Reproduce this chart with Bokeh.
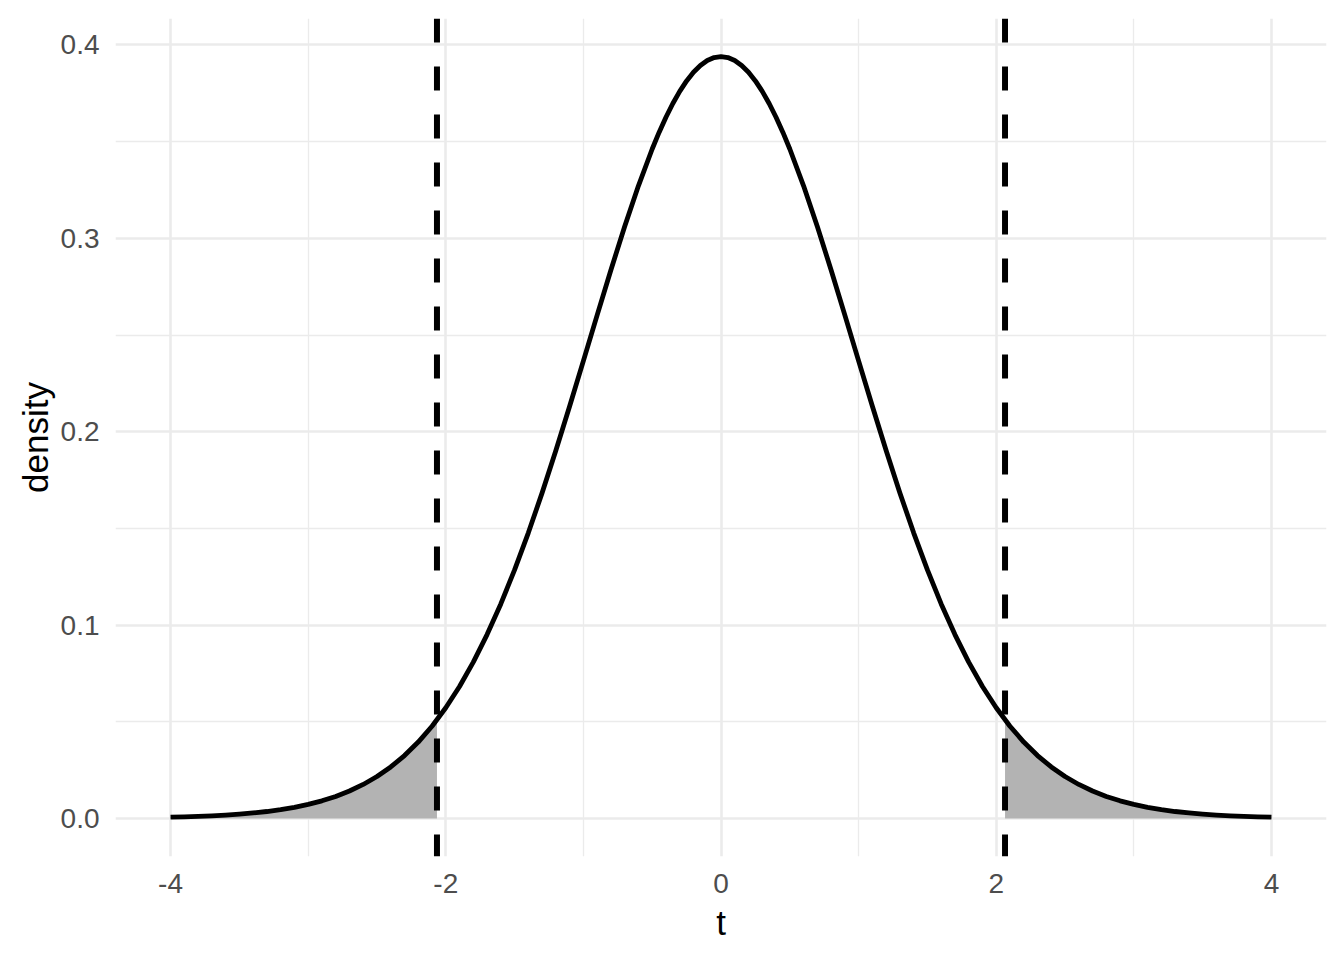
from bokeh.plotting import figure
from bokeh.models import FixedTicker, Span, Range1d
from bokeh.embed import file_html
from bokeh.resources import INLINE

# t grid and density
t_values = [-4.0, -3.9, -3.8, -3.7, -3.6, -3.5, -3.4, -3.3, -3.2, -3.1,
            -3.0, -2.9, -2.8, -2.7, -2.6, -2.5, -2.4, -2.3, -2.2, -2.1,
            -2.0, -1.9, -1.8, -1.7, -1.6, -1.5, -1.4, -1.3, -1.2, -1.1,
            -1.0, -0.9, -0.8, -0.7, -0.6, -0.5, -0.45, -0.4, -0.35, -0.3,
            -0.25, -0.2, -0.15, -0.1, -0.05, 0.0, 0.05, 0.1, 0.15, 0.2,
            0.25, 0.3, 0.35, 0.4, 0.45, 0.5, 0.6, 0.7, 0.8, 0.9,
            1.0, 1.1, 1.2, 1.3, 1.4, 1.5, 1.6, 1.7, 1.8, 1.9,
            2.0, 2.1, 2.2, 2.3, 2.4, 2.5, 2.6, 2.7, 2.8, 2.9,
            3.0, 3.1, 3.2, 3.3, 3.4, 3.5, 3.6, 3.7, 3.8, 3.9, 4.0]
density = [0.00063, 0.00082, 0.00105, 0.00135, 0.00173, 0.00221, 0.00282, 0.00357, 0.00454, 0.00574,
           0.00724, 0.00909, 0.01137, 0.01416, 0.01756, 0.02167, 0.02661, 0.03250, 0.03948, 0.04769,
           0.05722, 0.06822, 0.08081, 0.09507, 0.11093, 0.12851, 0.14771, 0.16835, 0.19025, 0.21313,
           0.23662, 0.26030, 0.28365, 0.30613, 0.32717, 0.34619, 0.35477, 0.36264, 0.36974, 0.37602,
           0.38142, 0.38590, 0.38942, 0.39196, 0.39349, 0.39400, 0.39349, 0.39196, 0.38942, 0.38590,
           0.38142, 0.37602, 0.36974, 0.36264, 0.35477, 0.34619, 0.32717, 0.30613, 0.28365, 0.26030,
           0.23662, 0.21313, 0.19025, 0.16835, 0.14771, 0.12851, 0.11093, 0.09507, 0.08081, 0.06822,
           0.05722, 0.04769, 0.03948, 0.03250, 0.02661, 0.02167, 0.01756, 0.01416, 0.01137, 0.00909,
           0.00724, 0.00574, 0.00454, 0.00357, 0.00282, 0.00221, 0.00173, 0.00135, 0.00105, 0.00082, 0.00063]
critical_t = 2.064
critical_density = 0.0513

x_ticks = [-4, -2, 0, 2, 4]
x_tick_labels = ["-4", "-2", "0", "2", "4"]
x_minor = [-3, -1, 1, 3]
y_ticks = [0.0, 0.1, 0.2, 0.3, 0.4]
y_minor = [0.05, 0.15, 0.25, 0.35]
y_tick_labels = ["0.0", "0.1", "0.2", "0.3", "0.4"]

FONT = "Liberation Sans"

p = figure(width=1328, height=944, output_backend="svg", toolbar_location=None,
           x_range=Range1d(-4.4, 4.4), y_range=Range1d(-0.0197, 0.4137),
           min_border_left=115, min_border_right=2, min_border_top=18, min_border_bottom=86)
p.outline_line_color = None
p.background_fill_color = "white"
p.border_fill_color = "white"

# tails
left_x = [x for x in t_values if x <= -critical_t] + [-critical_t]
left_y = [d for x, d in zip(t_values, density) if x <= -critical_t] + [critical_density]
right_x = [critical_t] + [x for x in t_values if x >= critical_t]
right_y = [critical_density] + [d for x, d in zip(t_values, density) if x >= critical_t]
p.varea(x=left_x, y1=[0] * len(left_x), y2=left_y, fill_color="#B3B3B3")
p.varea(x=right_x, y1=[0] * len(right_x), y2=right_y, fill_color="#B3B3B3")

p.line(t_values, density, line_color="black", line_width=4.8, line_join="round")

for loc in (-critical_t, critical_t):
    p.add_layout(Span(location=loc, dimension="height", line_color="black",
                      line_width=6, line_dash="24 24"))

p.xaxis.ticker = FixedTicker(ticks=x_ticks, minor_ticks=x_minor)
p.yaxis.ticker = FixedTicker(ticks=y_ticks, minor_ticks=y_minor)
p.xaxis.major_label_overrides = {v: s for v, s in zip(x_ticks, x_tick_labels)}
p.yaxis.major_label_overrides = {v: s for v, s in zip(y_ticks, y_tick_labels)}

for g in (p.xgrid, p.ygrid):
    g.grid_line_color = "#EBEBEB"
    g.grid_line_width = 2.6
    g.minor_grid_line_color = "#EBEBEB"
    g.minor_grid_line_width = 1.3

for ax in (p.xaxis, p.yaxis):
    ax.axis_line_color = None
    ax.major_tick_line_color = None
    ax.minor_tick_line_color = None
    ax.major_tick_out = 0
    ax.minor_tick_out = 0
    ax.major_label_text_font = FONT
    ax.major_label_text_font_size = "28px"
    ax.major_label_text_color = "#4D4D4D"
    ax.axis_label_text_font = FONT
    ax.axis_label_text_font_size = "35px"
    ax.axis_label_text_font_style = "normal"
    ax.axis_label_text_color = "black"

p.xaxis.axis_label = "t"
p.yaxis.axis_label = "density"
p.xaxis.major_label_standoff = 17
p.yaxis.major_label_standoff = 16
p.xaxis.axis_label_standoff = 7
p.yaxis.axis_label_standoff = 3

open("out.html", "w").write(file_html(p, INLINE))
